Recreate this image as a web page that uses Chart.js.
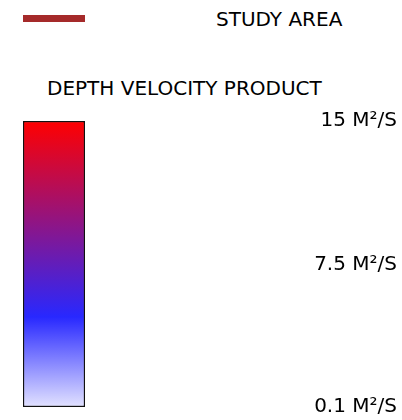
<!DOCTYPE html>
<html>
<head>
<meta charset="utf-8">
<script src="https://cdn.jsdelivr.net/npm/chart.js@4/dist/chart.umd.min.js"></script>
<style>
  body { margin: 0; background: #fff; }
  #wrap { position: relative; width: 402px; height: 420px; font-family: "DejaVu Sans", sans-serif; color: #000; }
  #legendLine { position: absolute; left: 23px; top: 15px; width: 62px; height: 7px; background: #a52a2a; }
  .lbl { position: absolute; font-size: 20px; line-height: 20px; white-space: nowrap; }
  #legendText { left: 216px; top: 9px; }
  #title { left: 47px; top: 78px; }
  canvas { position: absolute; left: 0; top: 0; }
</style>
</head>
<body>
<div id="wrap">
  <div id="legendLine"></div>
  <div id="legendText" class="lbl">STUDY AREA</div>
  <div id="title" class="lbl">DEPTH VELOCITY PRODUCT</div>
  <canvas id="scaleChart" width="402" height="420"></canvas>
</div>
<script>
'use strict';

// range shown by the colour ramp
var categories = ['DVP'];
var rangeValues = [[0.1, 15]];
var tickValues = [0.1, 7.5, 15];
var tickLabels = ['0.1 M²/S', '7.5 M²/S', '15 M²/S'];

// colour ramp, bottom (0) to top (1)
var rampStops = [
    [0, 'rgb(226,226,255)'],
    [0.315, 'rgb(40,40,255)'],
    [1, 'rgb(255,0,0)']
];

var tickFont = { family: 'DejaVu Sans', size: 20 };

// labels are right aligned at x = 397, so get the widest one first
var mctx = document.createElement('canvas').getContext('2d');
mctx.font = tickFont.size + 'px "' + tickFont.family + '"';
var widest = 0;
tickLabels.forEach(function (t) {
    widest = Math.max(widest, mctx.measureText(t).width);
});

var barLeft = 23, barRight = 85, labelRight = 397;

function rampFill(context) {
    var area = context.chart.chartArea;
    if (!area) return rampStops[1][1];
    var g = context.chart.ctx.createLinearGradient(0, area.bottom, 0, area.top);
    rampStops.forEach(function (s) { g.addColorStop(s[0], s[1]); });
    return g;
}

var SCALECHART = document.getElementById('scaleChart');

var scaleChart = new Chart(SCALECHART, {
    type: 'bar',
    data: {
        labels: categories,
        datasets: [{
            data: rangeValues,
            backgroundColor: rampFill,
            borderColor: '#111',
            borderWidth: 1.5,
            borderSkipped: false,
            barPercentage: 1,
            categoryPercentage: 1
        }]
    },
    options: {
        responsive: false,
        animation: false,
        layout: { padding: { top: 121, bottom: 13, left: barLeft, right: 402 - labelRight } },
        plugins: {
            legend: { display: false },
            title: { display: false },
            tooltip: { enabled: false }
        },
        scales: {
            x: { display: false },
            y: {
                position: 'right',
                min: 0.1,
                max: 15,
                // tick marks are hidden, their length only pushes the labels right
                grid: { display: false, drawTicks: true, tickLength: Math.max(0, labelRight - barRight - widest) },
                border: { display: false },
                afterFit: function (scale) { scale.width = labelRight - barRight; },
                afterBuildTicks: function (scale) {
                    scale.ticks = tickValues.map(function (v) { return { value: v }; });
                },
                ticks: {
                    color: '#000',
                    font: tickFont,
                    crossAlign: 'far',
                    padding: 0,
                    autoSkip: false,
                    callback: function (value, i) { return tickLabels[i]; }
                }
            }
        }
    }
});
</script>
</body>
</html>
